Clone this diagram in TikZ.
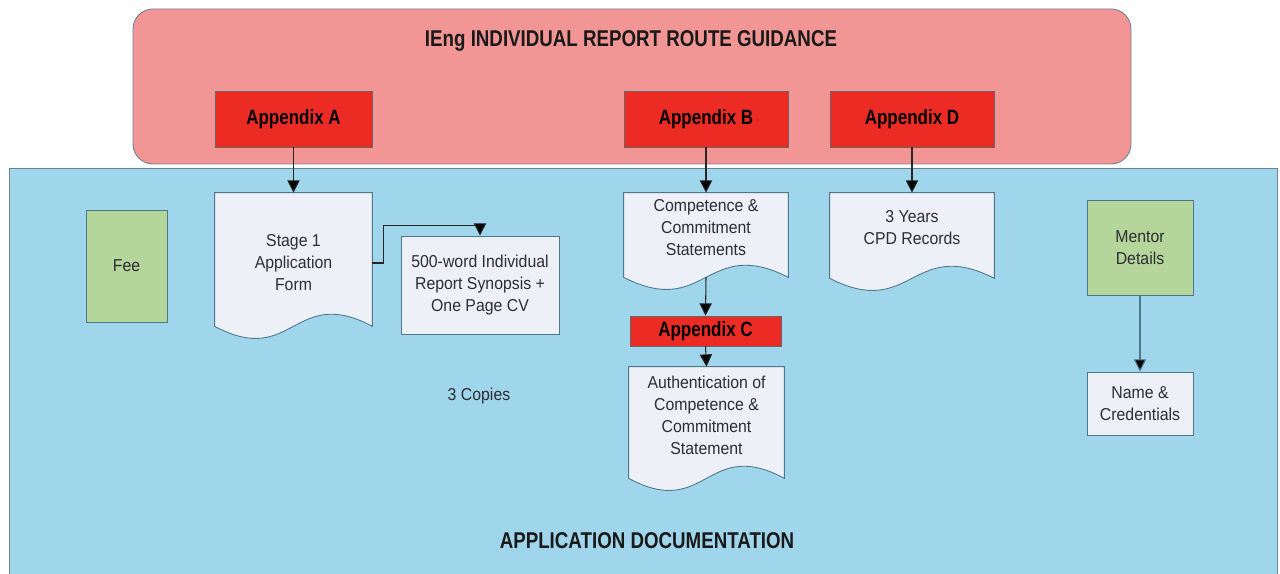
\documentclass[tikz,border=0pt]{standalone}
\usepackage{fontspec}
\setmainfont{Liberation Sans}[FakeStretch=0.92]
\newfontfamily\headfont{Liberation Sans}[FakeStretch=0.82]
\usetikzlibrary{arrows.meta,calc,positioning}

\definecolor{guidepink}{RGB}{242,150,149}
\definecolor{docblue}{RGB}{159,214,235}
\definecolor{apxred}{RGB}{236,44,36}
\definecolor{feegreen}{RGB}{181,214,154}
\definecolor{paperwhite}{RGB}{238,240,248}
\definecolor{boxline}{RGB}{78,120,138}
\definecolor{panelline}{RGB}{110,130,150}
\definecolor{textgray}{RGB}{45,45,50}

\pgfdeclarelayer{panel}
\pgfdeclarelayer{paper}
\pgfsetlayers{panel,paper,main}

\tikzset{
  headtext/.style={font=\headfont\bfseries\fontsize{13}{15}\selectfont, text=black!90},
  apx/.style={draw=black!60, fill=apxred, inner sep=0pt, minimum height=1.12cm,
    font=\headfont\bfseries\fontsize{11.8}{14}\selectfont, text=black},
  plain/.style={align=center, inner sep=0pt, text=textgray,
    font=\fontsize{9.8}{12.5}\selectfont},
  sheet/.style={plain, fill=paperwhite, draw=boxline, line width=0.5pt},
  docsheet/.style={plain},
  docline/.style={fill=paperwhite, draw=boxline, line width=0.5pt},
  greenbox/.style={plain, fill=feegreen, draw=boxline, line width=0.5pt},
  arr/.style={-{Triangle[length=7pt,width=7pt,fill=black]}, draw=black!85, line width=0.6pt}
}

% wavy document outline behind a named node, bottom moved by #2
\newcommand\docwave[2]{%
  \begin{pgfonlayer}{paper}
    \filldraw[docline] (#1.north west) -- (#1.north east) -- ($(#1.south east)+(0,#2)$)
      .. controls ($(#1.south)+(0,#2-42)$) and ($(#1.south)+(0,#2+42)$) .. ($(#1.south west)+(0,#2)$) -- cycle;
  \end{pgfonlayer}
  \coordinate (#1-b) at ($(#1.south)+(0,#2)$);}

\begin{document}
\begin{tikzpicture}[x=0.02cm, y=-0.02cm]
  \useasboundingbox (0,0) rectangle (1280,574);

  % panels
  \begin{pgfonlayer}{panel}
    \filldraw[fill=guidepink, draw=panelline, line width=0.5pt, rounded corners=0.4cm]
      (133,9) rectangle (1131,164);
    \filldraw[fill=docblue, draw=panelline, line width=0.5pt] (9,168) rectangle (1277,590);
  \end{pgfonlayer}

  \node[headtext] (title) at (631,41) {IEng INDIVIDUAL REPORT ROUTE GUIDANCE};
  \node[headtext] (appdoc) at (647,541) {APPLICATION DOCUMENTATION};

  % appendices
  \node[apx, minimum width=3.14cm] (apxA) at (293.5,119) {Appendix A};
  \node[apx, minimum width=3.28cm] (apxB) at (706,119) {Appendix B};
  \node[apx, minimum width=3.28cm] (apxD) at (912,119) {Appendix D};
  \node[apx, minimum width=3.02cm, minimum height=0.6cm] (apxC) at (705.5,331) {Appendix C};

  % documents
  \node[docsheet, minimum width=3.14cm, minimum height=2.8cm] (stage) at (293.5,263)
    {Stage 1\\Application\\Form};
  \docwave{stage}{-7}
  \node[docsheet, minimum width=3.28cm, minimum height=1.4cm] (comp) at (706,228)
    {Competence \&\\Commitment\\Statements};
  \docwave{comp}{14}
  \node[docsheet, minimum width=3.28cm, minimum height=1.4cm] (cpd) at (912,228)
    {3 Years\\CPD Records};
  \docwave{cpd}{15}
  \node[docsheet, minimum width=3.1cm, minimum height=1.92cm] (auth) at (706.5,415)
    {Authentication of\\Competence \&\\Commitment\\Statement};
  \docwave{auth}{15}

  \node[sheet, minimum width=3.16cm, minimum height=1.96cm] (syn) at (480,285)
    {500-word Individual\\Report Synopsis +\\One Page CV};
  \node[plain] (copies) at (479,396) {3 Copies};

  \node[greenbox, minimum width=1.62cm, minimum height=2.24cm] (fee) at (126.5,266) {Fee};
  \node[greenbox, minimum width=2.12cm, minimum height=1.9cm] (mentor) at (1140,247.5)
    {Mentor\\Details};
  \node[sheet, minimum width=2.12cm, minimum height=1.26cm] (name) at (1140,403.5)
    {Name \&\\Credentials};

  % connectors
  \draw[arr] (apxA.south) -- (stage.north);
  \draw[arr] (apxB.south) -- (comp.north);
  \draw[arr] (apxD.south) -- (cpd.north);
  \draw[arr] (comp-b) -- (apxC.north);
  \draw[arr] (apxC.south) -- (auth.north);
  \draw[arr, draw=boxline] (mentor.south) -- (name.north);
  \draw[arr] (stage.east) -- ++(11,0) |- ($(syn.north)+(0,-10)$) -| (syn.north);
\end{tikzpicture}
\end{document}
